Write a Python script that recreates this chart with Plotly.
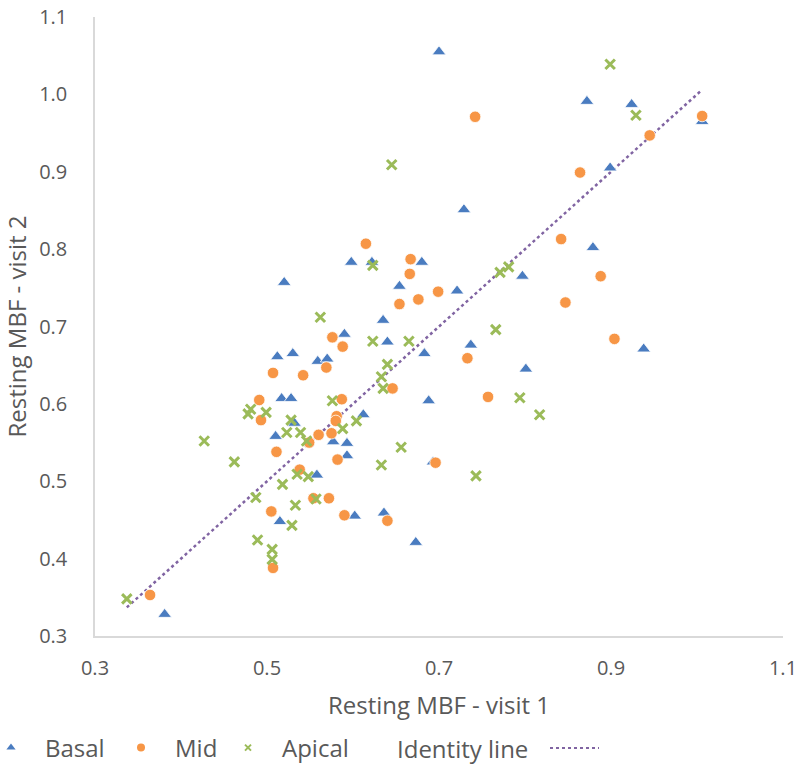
import plotly.graph_objects as go

# Resting myocardial blood flow by segment, visit 1 vs visit 2
basal_v1 = [0.700, 0.872, 0.924, 0.899, 1.006, 0.729, 0.879, 0.598, 0.622, 0.680,
            0.797, 0.520, 0.654, 0.721, 0.635, 0.590, 0.640, 0.737, 0.938, 0.512,
            0.530, 0.559, 0.570, 0.683, 0.801, 0.517, 0.528, 0.688, 0.612, 0.532,
            0.510, 0.593, 0.593, 0.577, 0.558, 0.693, 0.515, 0.602, 0.636, 0.673,
            0.381]
basal_v2 = [1.055, 0.991, 0.987, 0.905, 0.965, 0.851, 0.802, 0.783, 0.783, 0.783,
            0.765, 0.757, 0.752, 0.746, 0.708, 0.690, 0.680, 0.676, 0.671, 0.661,
            0.665, 0.655, 0.658, 0.665, 0.645, 0.607, 0.607, 0.604, 0.586, 0.575,
            0.558, 0.549, 0.533, 0.551, 0.508, 0.525, 0.448, 0.455, 0.459, 0.421,
            0.328]

mid_v1 = [0.742, 1.006, 0.945, 0.864, 0.842, 0.615, 0.888, 0.847, 0.667, 0.666,
          0.699, 0.654, 0.676, 0.576, 0.588, 0.569, 0.507, 0.542, 0.733, 0.904,
          0.491, 0.587, 0.646, 0.757, 0.493, 0.581, 0.580, 0.560, 0.549, 0.575,
          0.582, 0.511, 0.538, 0.554, 0.572, 0.505, 0.590, 0.696, 0.640, 0.507,
          0.364]
mid_v2 = [0.971, 0.972, 0.947, 0.899, 0.813, 0.807, 0.765, 0.731, 0.787, 0.768,
          0.745, 0.729, 0.735, 0.686, 0.674, 0.647, 0.640, 0.637, 0.659, 0.684,
          0.605, 0.606, 0.620, 0.609, 0.579, 0.584, 0.578, 0.560, 0.550, 0.562,
          0.528, 0.538, 0.515, 0.478, 0.478, 0.461, 0.456, 0.524, 0.449, 0.388,
          0.353]

apical_v1 = [0.899, 0.929, 0.645, 0.623, 0.771, 0.781, 0.562, 0.766, 0.623, 0.665,
             0.640, 0.633, 0.635, 0.794, 0.817, 0.604, 0.576, 0.478, 0.481, 0.499,
             0.528, 0.588, 0.523, 0.539, 0.546, 0.427, 0.462, 0.535, 0.548, 0.518,
             0.487, 0.557, 0.533, 0.529, 0.489, 0.506, 0.506, 0.337, 0.656, 0.633,
             0.743]
apical_v2 = [1.039, 0.973, 0.909, 0.779, 0.770, 0.777, 0.712, 0.696, 0.681, 0.681,
             0.651, 0.635, 0.620, 0.608, 0.586, 0.578, 0.604, 0.587, 0.593, 0.589,
             0.579, 0.568, 0.563, 0.563, 0.552, 0.552, 0.525, 0.509, 0.506, 0.496,
             0.479, 0.477, 0.469, 0.443, 0.424, 0.412, 0.399, 0.348, 0.544, 0.521,
             0.507]

x_ticks = [0.3, 0.5, 0.7, 0.9, 1.1]
y_ticks = [0.3, 0.4, 0.5, 0.6, 0.7, 0.8, 0.9, 1.0, 1.1]

BLUE = "#4A7CC0"
ORANGE = "#F79646"
GREEN = "#9BBB59"
PURPLE = "#8064A2"
TEXT = "#595959"
FONT = "Open Sans"

# plot-area geometry in pixels (used for the legend placement)
PLOT_L, PLOT_W, PLOT_B, PLOT_H = 95, 688, 636, 619
LEGEND_Y = (PLOT_B - 748) / PLOT_H


def px_x(px):
    return (px - PLOT_L) / PLOT_W


all_x = basal_v1 + mid_v1 + apical_v1
line_lo, line_hi = min(all_x), max(all_x)

fig = go.Figure()

# identity line spanning the range of visit-1 values
fig.add_trace(go.Scatter(
    x=[line_lo, line_hi], y=[line_lo, line_hi], mode="lines",
    line=dict(color=PURPLE, width=2.5, dash="dot"),
    showlegend=False, hoverinfo="skip"))

fig.add_trace(go.Scatter(
    x=basal_v1, y=basal_v2, mode="markers", name="Basal", showlegend=False,
    marker=dict(symbol="triangle-up", size=12, color=BLUE,
                line=dict(width=0.8, color="white"))))
fig.add_trace(go.Scatter(
    x=mid_v1, y=mid_v2, mode="markers", name="Mid", showlegend=False,
    marker=dict(symbol="circle", size=11.5, color=ORANGE,
                line=dict(width=0.8, color="white"))))
fig.add_trace(go.Scatter(
    x=apical_v1, y=apical_v2, mode="markers", name="Apical", showlegend=False,
    marker=dict(symbol="x-thin-open", size=9.5, color=GREEN,
                line=dict(width=3, color=GREEN))))

# one small legend key per series, each in its own legend box
legend_keys = [("Basal", "triangle-up", BLUE, 8, 0, "legend", -23),
               ("Mid", "circle", ORANGE, 8, 0, "legend2", 107),
               ("Apical", "x-thin-open", GREEN, 6, 2, "legend3", 214)]
legend_layout = {}
for name, sym, col, sz, lw, lg, left in legend_keys:
    fig.add_trace(go.Scatter(
        x=[None], y=[None], mode="markers", name=name, legend=lg,
        marker=dict(symbol=sym, size=sz, color=col,
                    line=dict(width=lw, color=col))))
    legend_layout[lg] = dict(orientation="h", x=px_x(left), xanchor="left",
                             y=LEGEND_Y, yanchor="middle",
                             font=dict(family=FONT, size=24, color=TEXT),
                             itemwidth=58, bgcolor="rgba(0,0,0,0)")

fig.update_layout(
    width=801, height=769,
    margin=dict(l=PLOT_L, r=801 - PLOT_L - PLOT_W, t=PLOT_B - PLOT_H,
                b=769 - PLOT_B, autoexpand=False),
    paper_bgcolor="white", plot_bgcolor="white",
    font=dict(family=FONT, color=TEXT, size=20),
    showlegend=True,
    xaxis=dict(range=[0.3, 1.1], tickvals=x_ticks,
               ticktext=[f"{v:.1f}" for v in x_ticks],
               showgrid=False, zeroline=False, showline=True,
               linecolor="#D9D9D9", linewidth=1.5, ticks="",
               ticklabelstandoff=13,
               tickfont=dict(family=FONT, size=20, color=TEXT),
               title=dict(text="Resting MBF - visit 1", standoff=17,
                          font=dict(family=FONT, size=24, color=TEXT))),
    yaxis=dict(range=[0.3, 1.1], tickvals=y_ticks,
               ticktext=[f"{v:.1f}" for v in y_ticks],
               showgrid=False, zeroline=False, showline=True,
               linecolor="#D9D9D9", linewidth=1.5, ticks="",
               ticklabelstandoff=22,
               tickfont=dict(family=FONT, size=20, color=TEXT),
               title=dict(text="Resting MBF - visit 2", standoff=6,
                          font=dict(family=FONT, size=24, color=TEXT))),
    **legend_layout,
)

# "Identity line" legend key: label followed by a dotted sample
fig.add_annotation(xref="paper", yref="paper", x=px_x(395), y=LEGEND_Y,
                   xanchor="left", yanchor="middle", showarrow=False,
                   text="Identity line", font=dict(family=FONT, size=24, color=TEXT))
fig.add_shape(type="line", xref="paper", yref="paper",
              x0=px_x(550), x1=px_x(599), y0=LEGEND_Y, y1=LEGEND_Y,
              line=dict(color=PURPLE, width=2, dash="dot"))

fig.write_html("out.html")
